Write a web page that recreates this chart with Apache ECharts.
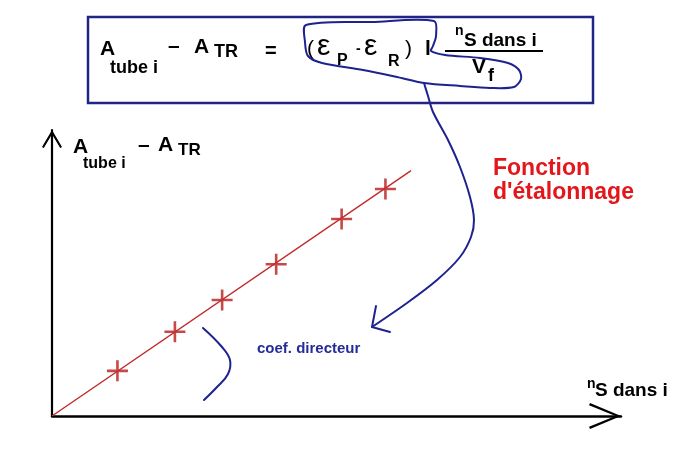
<!DOCTYPE html>
<html>
<head>
<meta charset="utf-8">
<title>Fonction d'étalonnage</title>
<script src="https://cdn.jsdelivr.net/npm/echarts@6/dist/echarts.min.js"></script>
<style>
    html, body { margin: 0; padding: 0; background: #fff; }
    #chart { width: 700px; height: 450px; }
</style>
</head>
<body>
<div id="chart"></div>
<script>
// gamme étalon : n_S dans i (x) et A_tube i - A_TR (y), unités arbitraires
var nS = [11.5, 21.6, 29.9, 39.4, 50.9, 58.6];
var dA = [15.8, 29.5, 40.6, 53.1, 68.9, 79.4];
// droite d'étalonnage (passe par l'origine)
var fitX = [0, 63.1];
var fitY = [0, 85.8];
var xMax = 100;
var yMax = 100;

var FONT = '"Liberation Sans", Arial, sans-serif';
var BLUE = '#1e2290';
var RED = '#e3161c';

function txt(x, y, s, size, color, weight) {
    return {
        type: 'text',
        x: x,
        y: y,
        silent: true,
        style: {
            text: s,
            fontSize: size,
            fontWeight: weight || 'bold',
            fontFamily: FONT,
            fill: color || '#000',
            verticalAlign: 'middle'
        }
    };
}

function curve(type, pts, smooth, width) {
    return {
        type: type,
        silent: true,
        shape: { points: pts, smooth: smooth },
        style: { stroke: BLUE, lineWidth: width || 2, fill: null, lineJoin: 'round', lineCap: 'round' }
    };
}

var graphics = [
    // cadre de la formule
    {
        type: 'rect', silent: true,
        shape: { x: 88, y: 17, width: 505, height: 86 },
        style: { stroke: '#202484', lineWidth: 2.5, fill: null }
    },
    txt(100, 49.5, 'A', 21),
    txt(110, 68, 'tube i', 18),
    txt(168, 46.5, '–', 21),
    txt(194, 47.5, 'A', 21),
    txt(214, 52.5, 'TR', 18),
    txt(265, 51.5, '=', 20),
    txt(307, 49, '(', 21, '#000', 'normal'),
    txt(317, 47, 'ε', 30, '#000', 'normal'),
    txt(337, 61, 'P', 16),
    txt(356, 49.5, '-', 14),
    txt(364, 47, 'ε', 30, '#000', 'normal'),
    txt(388, 61.5, 'R', 16),
    txt(405, 49, ')', 21, '#000', 'normal'),
    txt(425, 49.5, 'l', 21),
    txt(455, 31, 'n', 14),
    txt(464, 41, 'S dans i', 19),
    {
        type: 'line', silent: true,
        shape: { x1: 445, y1: 51, x2: 543, y2: 51 },
        style: { stroke: '#000', lineWidth: 2 }
    },
    txt(472, 67.5, 'V', 21),
    txt(488, 76, 'f', 18),

    // lasso et flèche bleus
    curve('polygon', [[306, 25], [372, 22], [434, 21], [436, 36], [433, 46], [431, 51], [445, 55],
        [480, 58], [508, 63], [519, 70], [521, 79], [514, 87], [490, 88], [460, 86], [424, 83],
        [397, 77], [363, 70], [322, 63], [308, 56], [305, 42]], 0.3),
    curve('polyline', [[424, 83], [428, 96], [433, 112], [448, 140], [460, 167], [470, 197], [474, 220],
        [471, 237], [460, 257], [437, 280], [407, 303], [372, 327]], 0.3),
    curve('polyline', [[376, 306], [372, 327], [390, 332]], 0),
    curve('polyline', [[203, 328], [222, 347], [230, 360], [228, 374], [217, 387], [204, 400]], 0.4),

    // nom de l'axe vertical
    txt(73, 147.5, 'A', 21),
    txt(83, 164, 'tube i', 16),
    txt(138, 145, '–', 21),
    txt(158, 145.5, 'A', 21),
    txt(178, 150, 'TR', 17),

    // nom de l'axe horizontal
    txt(587, 384, 'n', 14),
    txt(595, 391, 'S dans i', 19),

    txt(493, 168.5, 'Fonction', 23, RED),
    txt(493, 193, "d'étalonnage", 23, RED),
    txt(257, 349, 'coef. directeur', 15, '#232c98')
];

var chart = echarts.init(document.getElementById('chart'));

var option = {
    backgroundColor: '#fff',
    animation: false,
    grid: { left: 52, right: 79, top: 130, bottom: 34 },
    xAxis: {
        type: 'value', min: 0, max: xMax,
        axisLine: {
            show: true,
            lineStyle: { color: '#000', width: 2.5 },
            symbol: ['none', 'path://M13,0 L26,31 L23.8,32 L13,5.5 L2.2,32 L0,31 Z'],
            symbolSize: [26, 32],
            symbolOffset: [0, -16]
        },
        axisTick: { show: false },
        axisLabel: { show: false },
        splitLine: { show: false }
    },
    yAxis: {
        type: 'value', min: 0, max: yMax,
        axisLine: {
            show: true,
            lineStyle: { color: '#000', width: 2.2 },
            symbol: ['none', 'path://M10,0 L20,17 L18.2,18 L10,4.2 L1.8,18 L0,17 Z'],
            symbolSize: [20, 18],
            symbolOffset: [0, -9]
        },
        axisTick: { show: false },
        axisLabel: { show: false },
        splitLine: { show: false }
    },
    series: [
        {
            type: 'line',
            data: fitX.map(function (x, i) { return [x, fitY[i]]; }),
            symbol: 'none',
            lineStyle: { color: '#c02a2a', width: 1.4 },
            silent: true
        },
        {
            type: 'scatter',
            data: nS.map(function (x, i) { return [x, dA[i]]; }),
            // croix "+" tracées à la main
            symbol: 'path://M0,9.3 L21,9.3 L21,11.9 L0,11.9 Z M9.2,0 L11.8,0 L11.8,21 L9.2,21 Z',
            symbolSize: 21,
            itemStyle: { color: '#b81a1a' },
            silent: true
        }
    ],
    graphic: graphics
};

chart.setOption(option);
</script>
</body>
</html>
